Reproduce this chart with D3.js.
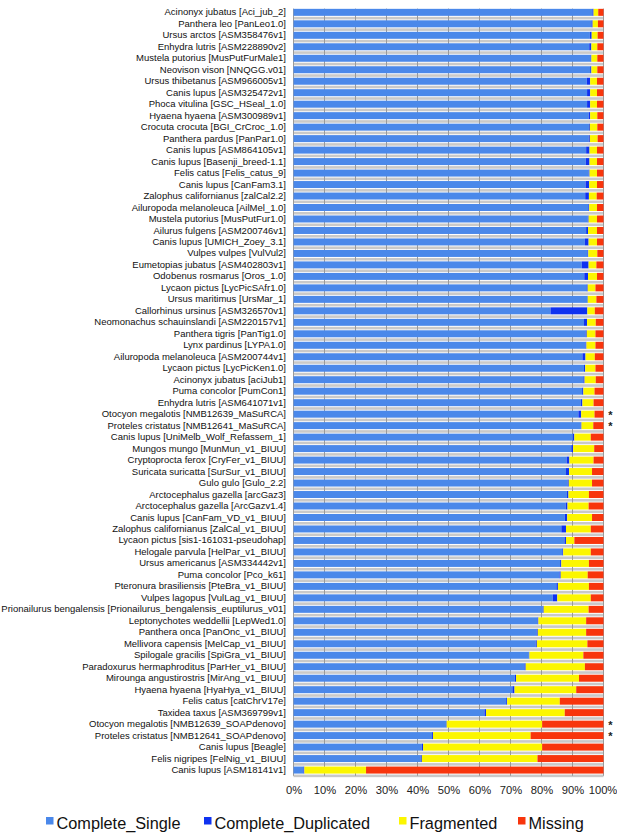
<!DOCTYPE html>
<html>
<head>
<meta charset="utf-8">
<script src="https://cdn.jsdelivr.net/npm/d3@7"></script>
<style>
  body { margin: 0; background: #fff; }
  svg { display: block; font-family: "Liberation Sans", Arial, sans-serif; }
</style>
</head>
<body>
<div id="chart"></div>
<script>
// assembly names, top to bottom
var assemblies = [
  "Acinonyx jubatus [Aci_jub_2]", "Panthera leo [PanLeo1.0]", "Ursus arctos [ASM358476v1]",
  "Enhydra lutris [ASM228890v2]", "Mustela putorius [MusPutFurMale1]", "Neovison vison [NNQGG.v01]",
  "Ursus thibetanus [ASM966005v1]", "Canis lupus [ASM325472v1]", "Phoca vitulina [GSC_HSeal_1.0]",
  "Hyaena hyaena [ASM300989v1]", "Crocuta crocuta [BGI_CrCroc_1.0]", "Panthera pardus [PanPar1.0]",
  "Canis lupus [ASM864105v1]", "Canis lupus [Basenji_breed-1.1]", "Felis catus [Felis_catus_9]",
  "Canis lupus [CanFam3.1]", "Zalophus californianus [zalCal2.2]", "Ailuropoda melanoleuca [AilMel_1.0]",
  "Mustela putorius [MusPutFur1.0]", "Ailurus fulgens [ASM200746v1]", "Canis lupus [UMICH_Zoey_3.1]",
  "Vulpes vulpes [VulVul2]", "Eumetopias jubatus [ASM402803v1]", "Odobenus rosmarus [Oros_1.0]",
  "Lycaon pictus [LycPicSAfr1.0]", "Ursus maritimus [UrsMar_1]", "Callorhinus ursinus [ASM326570v1]",
  "Neomonachus schauinslandi [ASM220157v1]", "Panthera tigris [PanTig1.0]", "Lynx pardinus [LYPA1.0]",
  "Ailuropoda melanoleuca [ASM200744v1]", "Lycaon pictus [LycPicKen1.0]", "Acinonyx jubatus [aciJub1]",
  "Puma concolor [PumCon1]", "Enhydra lutris [ASM641071v1]", "Otocyon megalotis [NMB12639_MaSuRCA]",
  "Proteles cristatus [NMB12641_MaSuRCA]", "Canis lupus [UniMelb_Wolf_Refassem_1]", "Mungos mungo [MunMun_v1_BIUU]",
  "Cryptoprocta ferox [CryFer_v1_BIUU]", "Suricata suricatta [SurSur_v1_BIUU]", "Gulo gulo [Gulo_2.2]",
  "Arctocephalus gazella [arcGaz3]", "Arctocephalus gazella [ArcGazv1.4]", "Canis lupus [CanFam_VD_v1_BIUU]",
  "Zalophus californianus [ZalCal_v1_BIUU]", "Lycaon pictus [sis1-161031-pseudohap]", "Helogale parvula [HelPar_v1_BIUU]",
  "Ursus americanus [ASM334442v1]", "Puma concolor [Pco_k61]", "Pteronura brasiliensis [PteBra_v1_BIUU]",
  "Vulpes lagopus [VulLag_v1_BIUU]", "Prionailurus bengalensis [Prionailurus_bengalensis_euptilurus_v01]",
  "Leptonychotes weddellii [LepWed1.0]", "Panthera onca [PanOnc_v1_BIUU]", "Mellivora capensis [MelCap_v1_BIUU]",
  "Spilogale gracilis [SpiGra_v1_BIUU]", "Paradoxurus hermaphroditus [ParHer_v1_BIUU]",
  "Mirounga angustirostris [MirAng_v1_BIUU]", "Hyaena hyaena [HyaHya_v1_BIUU]", "Felis catus [catChrV17e]",
  "Taxidea taxus [ASM369799v1]", "Otocyon megalotis [NMB12639_SOAPdenovo]", "Proteles cristatus [NMB12641_SOAPdenovo]",
  "Canis lupus [Beagle]", "Felis nigripes [FelNig_v1_BIUU]", "Canis lupus [ASM18141v1]"
];

// BUSCO percentages
var completeSingle = [
  96.4, 96.1, 95.6, 95.4, 95.8, 95.7, 94.6, 94.7, 94.7, 95.2, 95.3, 95.2, 94.4, 94.3, 95.2, 94.2, 94.1,
  95.1, 94.9, 94.4, 94.0, 94.8, 93.0, 93.8, 94.5, 94.7, 82.9, 93.7, 94.2, 94.2, 93.2, 93.7, 93.5, 93.1,
  92.7, 91.9, 92.6, 90.1, 89.6, 88.1, 87.9, 88.4, 88.2, 87.8, 87.5, 86.4, 87.4, 86.7, 86.0, 85.8, 84.8,
  83.6, 80.4, 78.7, 78.4, 78.1, 75.9, 74.5, 71.4, 70.6, 68.6, 61.6, 49.2, 44.7, 41.4, 41.0, 3.2
];
var completeDuplicated = [
  0.4, 0.4, 0.6, 0.7, 0.3, 0.4, 1.1, 1.0, 1.0, 0.5, 0.3, 0.4, 1.1, 1.2, 0.3, 1.2, 1.2,
  0.3, 0.3, 0.6, 1.2, 0.3, 2.2, 1.2, 0.4, 0.2, 11.9, 1.0, 0.4, 0.3, 1.0, 0.4, 0.4, 0.4,
  0.5, 0.9, 0.3, 0.5, 0.6, 0.9, 1.0, 0.4, 0.5, 0.6, 0.8, 1.5, 0.5, 0.3, 0.4, 0.4, 0.5,
  1.5, 0.3, 0.3, 0.4, 0.4, 0.2, 0.4, 0.4, 0.7, 0.3, 0.5, 0.2, 0.3, 0.4, 0.4, 0.3
];
var fragmented = [
  1.5, 1.7, 1.9, 1.9, 1.9, 1.9, 2.2, 2.2, 2.2, 2.3, 2.4, 2.5, 2.4, 2.4, 2.4, 2.5, 2.5,
  2.5, 2.7, 2.9, 2.7, 2.9, 2.5, 2.9, 2.5, 2.8, 2.4, 2.8, 2.8, 2.9, 3.0, 3.3, 3.6, 3.6,
  3.6, 4.3, 3.8, 5.3, 6.8, 7.8, 7.4, 7.5, 6.6, 6.8, 8.0, 8.0, 2.7, 8.9, 8.9, 8.7, 10.0,
  10.8, 14.5, 15.4, 15.6, 16.3, 17.4, 19.1, 20.3, 19.9, 17.0, 25.4, 30.8, 31.5, 38.4, 37.3, 19.9
];
var missing = [
  1.7, 1.8, 1.9, 2.0, 2.0, 2.0, 2.1, 2.1, 2.1, 2.0, 2.0, 1.9, 2.1, 2.1, 2.1, 2.1, 2.2,
  2.1, 2.1, 2.1, 2.1, 2.0, 2.3, 2.1, 2.6, 2.3, 2.8, 2.5, 2.6, 2.6, 2.8, 2.6, 2.5, 2.9,
  3.2, 2.9, 3.3, 4.1, 3.0, 3.2, 3.7, 3.7, 4.7, 4.8, 3.7, 4.1, 9.4, 4.1, 4.7, 5.1, 4.7,
  4.1, 4.8, 5.6, 5.6, 5.2, 6.5, 6.0, 7.9, 8.8, 14.1, 12.5, 19.8, 23.5, 19.8, 21.3, 76.6
];
// assemblies marked with an asterisk
var starred = [
  "Otocyon megalotis [NMB12639_MaSuRCA]", "Proteles cristatus [NMB12641_MaSuRCA]",
  "Otocyon megalotis [NMB12639_SOAPdenovo]", "Proteles cristatus [NMB12641_SOAPdenovo]"
];
var seriesNames = ["Complete_Single", "Complete_Duplicated", "Fragmented", "Missing"];
var tickValues = [0, 10, 20, 30, 40, 50, 60, 70, 80, 90, 100];

var colors = ["#4a88ea", "#0f32f0", "#fcf600", "#f8350c"];

var width = 617, height = 833;

var rows = assemblies.map(function (name, i) {
  return {
    name: name,
    Complete_Single: completeSingle[i],
    Complete_Duplicated: completeDuplicated[i],
    Fragmented: fragmented[i],
    Missing: missing[i]
  };
});

var svg = d3.select("#chart").append("svg")
    .attr("width", width)
    .attr("height", height);

var x = d3.scaleLinear().domain([0, 100]).range([293.5, 603.5]);
var y = d3.scaleBand().domain(assemblies).range([6.6, 775.8]);
var barH = 7;

// gray floor strip under each bar
svg.append("g").selectAll("rect")
    .data(assemblies)
    .enter().append("rect")
    .attr("x", x(0))
    .attr("width", x(100) - x(0))
    .attr("y", function (d) { return y(d) + y.bandwidth() / 2 + barH / 2 + 1; })
    .attr("height", 2.6)
    .attr("fill", "#c9c9c9");

// vertical gridlines
svg.append("g").selectAll("line")
    .data(tickValues)
    .enter().append("line")
    .attr("x1", function (d) { return x(d); })
    .attr("x2", function (d) { return x(d); })
    .attr("y1", y.range()[0] + 2)
    .attr("y2", y.range()[1])
    .attr("stroke", "#9a9a9a")
    .attr("stroke-width", 1);

// stacked bars
var stack = d3.stack().keys(seriesNames);
var layers = stack(rows);

svg.append("g").selectAll("g")
    .data(layers)
    .enter().append("g")
    .attr("fill", function (d, i) { return colors[i]; })
    .selectAll("rect")
    .data(function (d) { return d; })
    .enter().append("rect")
    .attr("x", function (d) { return x(d[0]); })
    .attr("width", function (d) { return Math.max(0, x(Math.min(d[1], 100)) - x(d[0])); })
    .attr("y", function (d) { return y(d.data.name) + y.bandwidth() / 2 - barH / 2; })
    .attr("height", barH);

// row labels
var yAxis = d3.axisLeft(y).tickSize(0).tickPadding(0);
var gy = svg.append("g")
    .attr("transform", "translate(" + (x(0) - 7.5) + ",0)")
    .call(yAxis);
gy.select(".domain").remove();
gy.selectAll("text")
    .attr("font-family", "Liberation Sans, Arial, sans-serif")
    .attr("font-size", 9.5)
    .attr("fill", "#111");

// asterisks
svg.append("g").selectAll("text")
    .data(starred)
    .enter().append("text")
    .attr("x", 610.5)
    .attr("y", function (d) { return y(d) + y.bandwidth() / 2 + 4.5; })
    .attr("text-anchor", "middle")
    .attr("font-size", 11)
    .attr("font-weight", "bold")
    .attr("fill", "#222")
    .text("*");

// x axis labels
var xAxis = d3.axisBottom(x)
    .tickValues(tickValues)
    .tickSize(0)
    .tickPadding(0)
    .tickFormat(function (d) { return d + "%"; });
var gx = svg.append("g")
    .attr("transform", "translate(0,786)")
    .call(xAxis);
gx.select(".domain").remove();
gx.selectAll("text")
    .attr("font-family", "Liberation Sans, Arial, sans-serif")
    .attr("font-size", 11.2)
    .attr("fill", "#222");
gx.selectAll(".tick").filter(function (d) { return d === 100; })
    .select("text").attr("dx", "-1");

// legend
var legendX = [46, 204, 399, 518];
var legend = svg.append("g").selectAll("g")
    .data(seriesNames)
    .enter().append("g")
    .attr("transform", function (d, i) { return "translate(" + legendX[i] + ",817)"; });
legend.append("rect")
    .attr("width", 7.5)
    .attr("height", 7.5)
    .attr("fill", function (d, i) { return colors[i]; });
legend.append("text")
    .attr("x", 10.5)
    .attr("y", 12)
    .attr("font-size", 16.3)
    .attr("fill", "#111")
    .text(function (d) { return d; });
</script>
</body>
</html>
